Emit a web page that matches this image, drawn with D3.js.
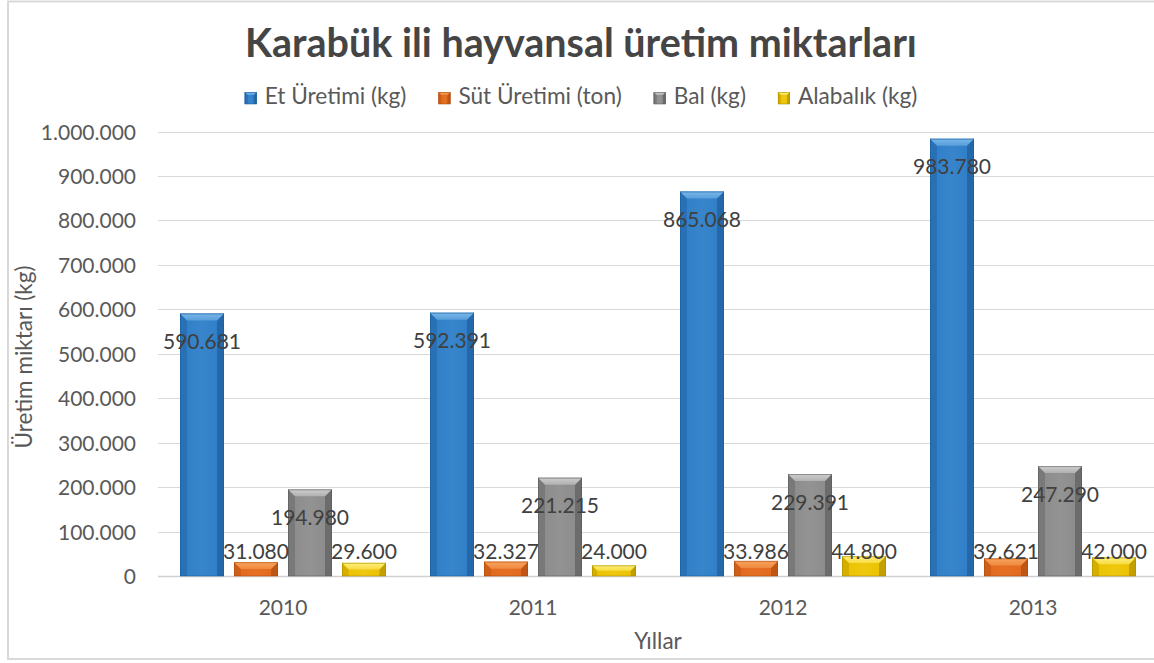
<!DOCTYPE html>
<html>
<head>
<meta charset="utf-8">
<script src="https://cdn.jsdelivr.net/npm/d3@7"></script>
<style>
  html, body { margin: 0; padding: 0; background: #fff; }
  svg { display: block; font-family: Lato, "Noto Sans", sans-serif; }
</style>
</head>
<body>
<svg id="chart" width="1154" height="663"></svg>
<script>
// ---- data ----
const years = ["2010", "2011", "2012", "2013"];
const seriesNames = ["Et Üretimi (kg)", "Süt Üretimi (ton)", "Bal (kg)", "Alabalık (kg)"];
const etUretimi = [590681, 592391, 865068, 983780];
const sutUretimi = [31080, 32327, 33986, 39621];
const bal = [194980, 221215, 229391, 247290];
const alabalik = [29600, 24000, 44800, 42000];
const yTicks = [0, 100000, 200000, 300000, 400000, 500000, 600000, 700000, 800000, 900000, 1000000];
const titleText = "Karabük ili hayvansal üretim miktarları";
const xTitle = "Yıllar";
const yTitle = "Üretim miktarı (kg)";

const seriesValues = [etUretimi, sutUretimi, bal, alabalik];
const palette = [
  { dark: "#1c5a96", mid: "#2f7ec7", light: "#79b8ea" },
  { dark: "#a84a10", mid: "#e2691d", light: "#f9a45c" },
  { dark: "#575757", mid: "#8b8b8b", light: "#cfcfcf" },
  { dark: "#a98800", mid: "#ecc200", light: "#fff07a" }
];

const locale = d3.formatLocale({ decimal: ",", thousands: ".", grouping: [3], currency: ["", ""] });
const fmt = locale.format(",d");

const svg = d3.select("#chart");
const W = 1154, H = 663;
const plot = { left: 158, right: 1158, top: 131.5, bottom: 576 };

// frame
svg.append("rect").attr("x", 8).attr("y", 1.5).attr("width", 1160).attr("height", 657.5)
  .attr("fill", "#fff").attr("stroke", "#d9d9d9").attr("stroke-width", 2);

// scales
const x0 = d3.scaleBand().domain(years).range([plot.left, plot.right]).padding(0);
const x1 = d3.scaleBand().domain(d3.range(seriesNames.length)).range([22, 228]).paddingInner(10 / 54).paddingOuter(0);
const y = d3.scaleLinear().domain([0, 1000000]).range([plot.bottom, plot.top]);

// gridlines
svg.append("g").selectAll("line").data(yTicks).join("line")
  .attr("x1", plot.left).attr("x2", W)
  .attr("y1", d => Math.round(y(d)) + 0.5).attr("y2", d => Math.round(y(d)) + 0.5)
  .attr("stroke", d => d === 0 ? "#d0d0d0" : "#d9d9d9").attr("stroke-width", d => d === 0 ? 1.5 : 1);

// y axis (labels only)
const yAxis = d3.axisLeft(y).tickValues(yTicks).tickFormat(fmt).tickSize(0).tickPadding(0);
const gy = svg.append("g").attr("transform", `translate(136,0)`).call(yAxis);
gy.select(".domain").remove();
gy.selectAll("text").attr("font-family", "Lato, sans-serif").attr("font-size", 21).attr("fill", "#595959").attr("dy", "0.36em");

// x axis labels
const xAxis = d3.axisBottom(x0).tickSize(0).tickPadding(0);
const gx = svg.append("g").attr("transform", `translate(0,${plot.bottom})`).call(xAxis);
gx.select(".domain").remove();
gx.selectAll("text").attr("font-family", "Lato, sans-serif").attr("font-size", 21).attr("fill", "#595959")
  .attr("y", 39).attr("dy", 0);

// defs: gradients
const defs = svg.append("defs");
palette.forEach((p, i) => {
  const g = defs.append("linearGradient").attr("id", "body" + i).attr("x1", 0).attr("x2", 1).attr("y1", 0).attr("y2", 0);
  g.append("stop").attr("offset", "0%").attr("stop-color", p.dark);
  g.append("stop").attr("offset", "6%").attr("stop-color", p.mid);
  g.append("stop").attr("offset", "50%").attr("stop-color", d3.interpolateRgb(p.mid, p.light)(0.12));
  g.append("stop").attr("offset", "92%").attr("stop-color", p.mid);
  g.append("stop").attr("offset", "100%").attr("stop-color", p.dark);
  const t = defs.append("linearGradient").attr("id", "top" + i).attr("x1", 0).attr("x2", 0).attr("y1", 0).attr("y2", 1);
  t.append("stop").attr("offset", "0%").attr("stop-color", p.light);
  t.append("stop").attr("offset", "100%").attr("stop-color", d3.interpolateRgb(p.light, p.mid)(0.45));
});

function bevelBar(g, x, yTop, w, h, i, bMax) {
  const p = palette[i];
  const b = Math.min(bMax, h / 2, w / 2);
  g.append("rect").attr("x", x).attr("y", yTop).attr("width", w).attr("height", h).attr("fill", `url(#body${i})`);
  // left bevel
  g.append("polygon").attr("points", [[x, yTop], [x + b, yTop + b], [x + b, yTop + h], [x, yTop + h]].join(" "))
    .attr("fill", d3.interpolateRgb(p.mid, p.dark)(0.35));
  // right bevel
  g.append("polygon").attr("points", [[x + w, yTop], [x + w - b, yTop + b], [x + w - b, yTop + h], [x + w, yTop + h]].join(" "))
    .attr("fill", d3.interpolateRgb(p.mid, p.dark)(0.6));
  // top bevel
  g.append("polygon").attr("points", [[x, yTop], [x + w, yTop], [x + w - b, yTop + b], [x + b, yTop + b]].join(" "))
    .attr("fill", `url(#top${i})`);
  g.append("rect").attr("x", x + 0.5).attr("y", yTop + 0.5).attr("width", w - 1).attr("height", h - 0.5)
    .attr("fill", "none").attr("stroke", p.dark).attr("stroke-opacity", 0.55).attr("stroke-width", 1);
}

// bars + labels, drawn from last series to first
const barsG = svg.append("g");
for (let i = seriesNames.length - 1; i >= 0; i--) {
  const sg = barsG.append("g");
  seriesValues[i].forEach((v, j) => {
    const bx = x0(years[j]) + x1(i);
    const bw = x1.bandwidth();
    const by = y(v);
    const bh = y(0) - by;
    bevelBar(sg, bx, by, bw, bh, i, 7);
  });
  seriesValues[i].forEach((v, j) => {
    const cx = x0(years[j]) + x1(i) + x1.bandwidth() / 2;
    const cy = Math.min(y(v) + 28, y(0) - 25);
    sg.append("text").attr("x", cx).attr("y", cy).attr("dy", "0.36em")
      .attr("text-anchor", "middle").attr("font-size", 21).attr("fill", "#404040")
      .text(fmt(v));
  });
}

// title
const title = svg.append("text").attr("x", 581).attr("y", 57).attr("text-anchor", "middle")
  .attr("font-weight", "bold").attr("font-size", 34).attr("fill", "#454545").text(titleText);
const tw = title.node().getComputedTextLength();
title.attr("font-size", 34 * 672 / tw);

// legend
const legG = svg.append("g");
const items = seriesNames.map((n, i) => {
  const g = legG.append("g");
  const t = g.append("text").attr("x", 20).attr("y", 104).attr("font-size", 18).attr("fill", "#595959").text(n);
  return { g, t, i };
});
let totalText = d3.sum(items, d => d.t.node().getComputedTextLength());
const legFont = 18 * 497 / totalText;
items.forEach(d => d.t.attr("font-size", legFont));
let cursor = 0;
const gap = 32;
const widths = items.map(d => d.t.node().getComputedTextLength() + 20);
const legTotal = d3.sum(widths) + gap * (items.length - 1);
cursor = 581 - legTotal / 2;
items.forEach((d, k) => {
  d.g.attr("transform", `translate(${cursor},0)`);
  bevelBar(d.g, 0, 92, 12, 12, d.i, 3);
  cursor += widths[k] + gap;
});

// axis titles
svg.append("text").attr("x", 658).attr("y", 649).attr("text-anchor", "middle")
  .attr("font-size", 22.5).attr("fill", "#595959").text(xTitle);
svg.append("text").attr("transform", "translate(32,357) rotate(-90)").attr("text-anchor", "middle")
  .attr("font-size", 22.5).attr("fill", "#595959").text(yTitle);
</script>
</body>
</html>
